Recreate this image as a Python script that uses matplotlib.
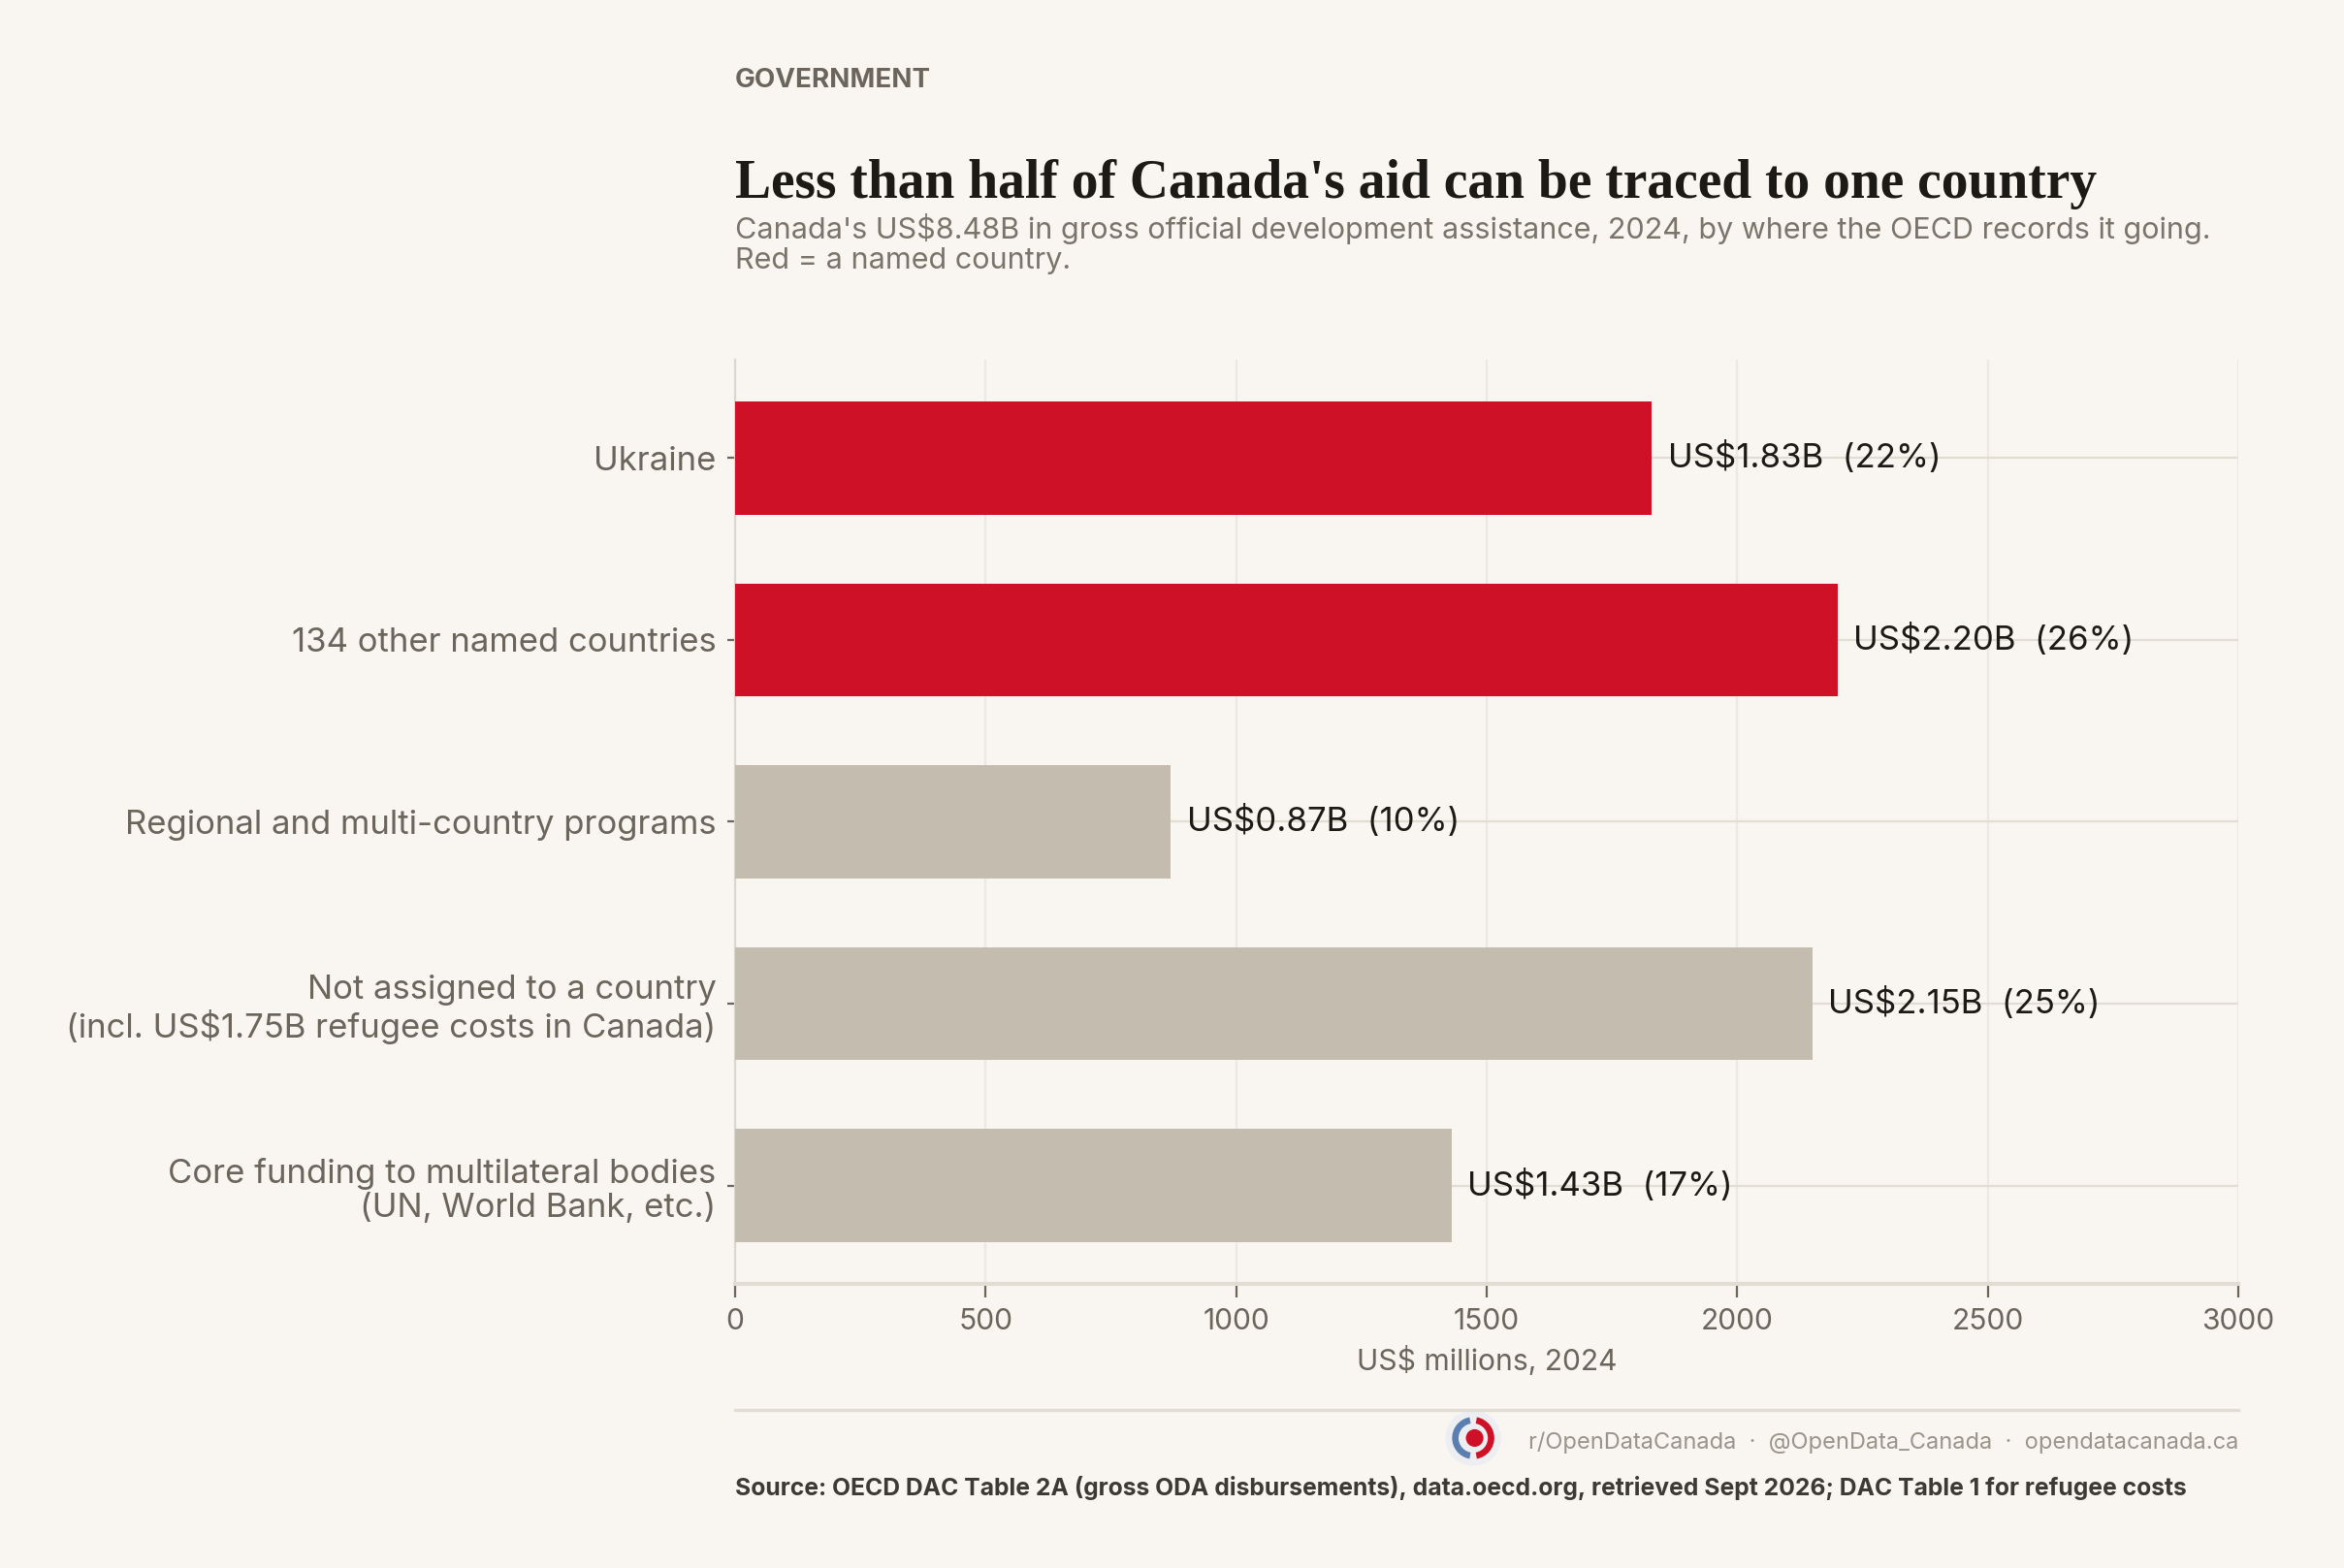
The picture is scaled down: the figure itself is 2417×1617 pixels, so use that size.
import numpy as np
import matplotlib.pyplot as plt
from matplotlib.patches import Circle, Wedge
from matplotlib.lines import Line2D

# data
categories = [
    "Ukraine",
    "134 other named countries",
    "Regional and multi-country programs",
    "Not assigned to a country\n(incl. US$1.75B refugee costs in Canada)",
    "Core funding to multilateral bodies\n(UN, World Bank, etc.)",
]
values = [1830, 2200, 870, 2150, 1430]
value_labels = ["US$1.83B", "US$2.20B", "US$0.87B", "US$2.15B", "US$1.43B"]
shares = ["22%", "26%", "10%", "25%", "17%"]
named_country = [True, True, False, False, False]
xticks = [0, 500, 1000, 1500, 2000, 2500, 3000]

BG = "#f9f6f1"
RED = "#ce1126"
GREY = "#c4bcae"
TXT = "#6b655c"
DARK = "#1c1a17"

plt.rcParams['font.family'] = ['Inter', 'DejaVu Sans']

fig = plt.figure(figsize=(12.085, 8.085), dpi=200, facecolor=BG)
ax = fig.add_axes([0.3136, 0.1812, 0.6413, 0.5894], facecolor=BG)

ypos = np.arange(len(categories))
colors = [RED if n else GREY for n in named_country]
ax.barh(ypos, values, height=0.62, color=colors, zorder=3)
ax.invert_yaxis()

for y, v, lab, sh in zip(ypos, values, value_labels, shares):
    ax.text(v + 32, y, f"{lab}  ({sh})", va='center', ha='left',
            fontsize=12.5, color=DARK, zorder=4)

ax.set_xlim(0, 3000)
ax.set_xticks(xticks)
ax.set_xticklabels([str(t) for t in xticks], fontsize=10.8, color=TXT)
ax.set_yticks(ypos)
ax.set_yticklabels(categories, fontsize=12.5, color=TXT, linespacing=1.15)
ax.set_xlabel("US$ millions, 2024", fontsize=10.8, color=TXT, labelpad=4)

ax.grid(axis='x', color="#ede9e2", linewidth=0.8, zorder=0)
ax.grid(axis='y', color="#e2ddd4", linewidth=0.8, zorder=0)
for s in ['top', 'right']:
    ax.spines[s].set_visible(False)
ax.spines['left'].set_color("#dcd7ce")
ax.spines['left'].set_linewidth(0.8)
ax.spines['bottom'].set_color("#e2ddd4")
ax.spines['bottom'].set_linewidth(1.5)
ax.tick_params(axis='x', length=5, width=0.8, color="#6b655c", pad=4)
ax.tick_params(axis='y', length=3, width=0.8, color="#6b655c", pad=4)

# header
fig.text(0.3136, 0.9485, "GOVERNMENT", fontsize=10, fontweight='bold',
         color=TXT, va='center', ha='left')
fig.text(0.3136, 0.8825, "Less than half of Canada's aid can be traced to one country",
         fontsize=20, fontweight='bold', family=['Liberation Serif', 'DejaVu Serif'],
         color=DARK, va='center', ha='left')
fig.text(0.3136, 0.864,
         "Canada's US$8.48B in gross official development assistance, 2024, by where the OECD records it going.\n"
         "Red = a named country.",
         fontsize=11, color="#7a746a", va='top', ha='left', linespacing=1.12)

# footer
fig.add_artist(Line2D([0.3136, 0.9549], [0.1008, 0.1008], transform=fig.transFigure,
                      color="#e2ddd4", linewidth=1.2))
# small round logo, drawn in its own square axes so it stays circular
lax = fig.add_axes([0.6285 - 0.0125, 0.0829 - 0.0187, 0.025, 0.0374])
lax.set_aspect('equal')
lax.set_xlim(-1, 1)
lax.set_ylim(-1, 1)
lax.axis('off')
lax.add_patch(Circle((0, 0), 0.95, facecolor="#eceef1", edgecolor='none'))
lax.add_patch(Wedge((0, 0), 0.72, 100, 260, width=0.22, facecolor="#5a7fb0", edgecolor='none'))
lax.add_patch(Wedge((0, 0), 0.72, -80, 80, width=0.22, facecolor=RED, edgecolor='none'))
lax.add_patch(Circle((0.05, 0.0), 0.3, facecolor=RED, edgecolor='none'))
fig.text(0.9549, 0.0798,
         "r/OpenDataCanada  \u00b7  @OpenData_Canada  \u00b7  opendatacanada.ca",
         fontsize=8.5, color="#9a948a", va='center', ha='right')
fig.text(0.3136, 0.0513,
         "Source: OECD DAC Table 2A (gross ODA disbursements), data.oecd.org, retrieved Sept 2026; DAC Table 1 for refugee costs",
         fontsize=8.9, fontweight='bold', color="#3d3a35", va='center', ha='left')

fig.savefig("out.png", dpi=200, facecolor=BG)
